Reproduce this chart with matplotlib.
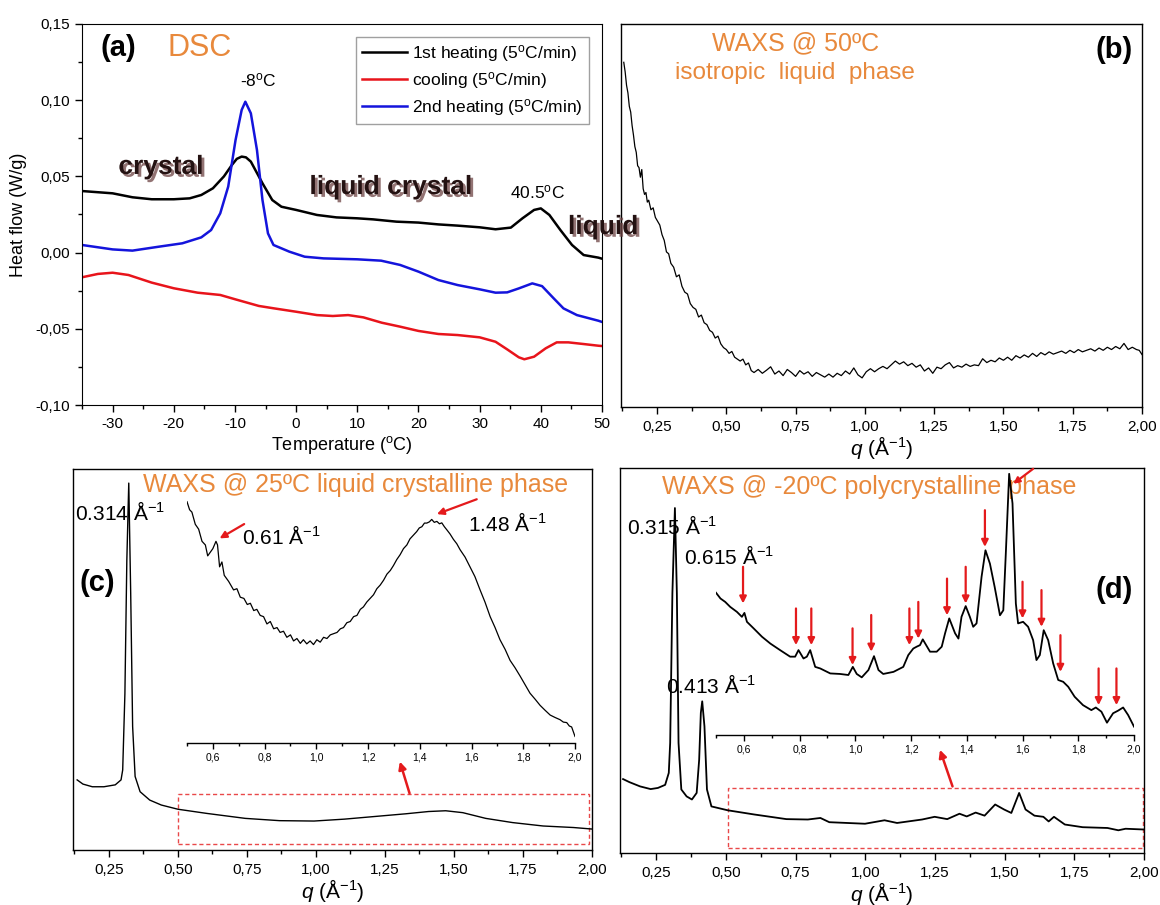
import numpy as np
import matplotlib
matplotlib.use('Agg')
import matplotlib.pyplot as plt
from matplotlib import patheffects as pe
from matplotlib.ticker import FuncFormatter, MultipleLocator
from matplotlib.patches import Rectangle

plt.rcParams['font.family'] = ['Liberation Sans', 'DejaVu Sans']
plt.rcParams['mathtext.fontset'] = 'custom'
plt.rcParams['mathtext.rm'] = 'Liberation Sans'
plt.rcParams['mathtext.it'] = 'Liberation Sans:italic'
plt.rcParams['axes.unicode_minus'] = False

# ---------------- data: (a) DSC ----------------
T_heat1 = [-35, -30, -26.75, -23.6, -20, -17.4, -15.5, -13.6, -11.8, -10.5,
           -9.7, -8.9, -8.2, -7.4, -5.5, -3.9, -2.4, 0, 3.4, 6.6,
           10, 12.6, 16.4, 20, 23.25, 26.4, 30, 32.6, 35.1, 37,
           38.9, 40, 41.4, 43.2, 45.1, 47, 49.4, 50]
hf_heat1 = [0.0404, 0.0389, 0.0363, 0.0350, 0.0350, 0.0356, 0.0378, 0.0422, 0.0500, 0.0575,
            0.0615, 0.0630, 0.0625, 0.0597, 0.0455, 0.0345, 0.0301, 0.0280, 0.0247, 0.0231,
            0.0225, 0.0218, 0.0203, 0.0197, 0.0185, 0.0177, 0.0166, 0.0153, 0.0164, 0.0225,
            0.0280, 0.0290, 0.0247, 0.0148, 0.0050, -0.0016, -0.0033, -0.0040]

T_heat2 = [-35, -30, -26.75, -22.4, -18.6, -15.5, -13.9, -12.4, -11.1, -9.9,
           -8.9, -8.3, -7.4, -6.4, -5.5, -4.6, -3.7, -1.1, 1.4, 4.5,
           10, 13.9, 17, 20, 23.25, 26.4, 30, 32.6, 34.5, 36.4,
           38.6, 40.2, 42.1, 43.7, 45.9, 49.4, 50]
hf_heat2 = [0.0050, 0.0021, 0.0013, 0.0039, 0.0061, 0.0100, 0.0148, 0.0258, 0.0433, 0.0739,
            0.0936, 0.0990, 0.0914, 0.0673, 0.0345, 0.0126, 0.0050, 0.0006, -0.0027, -0.0038,
            -0.0044, -0.0053, -0.0081, -0.0125, -0.0180, -0.0213, -0.0241, -0.0263, -0.0261, -0.0235,
            -0.0202, -0.0220, -0.0300, -0.0366, -0.0410, -0.0447, -0.0455]

T_cool = [-35, -32.4, -30, -27.4, -23.6, -20, -16.1, -12.4, -9.9, -6.1,
          -3.6, 0, 3.4, 6, 8.5, 11, 14, 17, 20, 23.25,
          26.4, 30, 32.6, 34.5, 36.4, 37.3, 38.9, 40.8, 42.6, 44.5,
          47, 49.4, 50]
hf_cool = [-0.0162, -0.0140, -0.0132, -0.0147, -0.0197, -0.0234, -0.0263, -0.0278, -0.0307, -0.0350,
           -0.0366, -0.0388, -0.0410, -0.0416, -0.0410, -0.0425, -0.0460, -0.0486, -0.0514, -0.0534,
           -0.0541, -0.0556, -0.0585, -0.0635, -0.0687, -0.0700, -0.0683, -0.0628, -0.0589, -0.0589,
           -0.0600, -0.0611, -0.0613]

dsc_labels = ['1st heating (5$^{\\rm o}$C/min)', 'cooling (5$^{\\rm o}$C/min)',
              '2nd heating (5$^{\\rm o}$C/min)']

# ---------------- data: (b) WAXS 50 C ----------------
q_b = [0.130, 0.135, 0.140, 0.145, 0.150, 0.155, 0.160, 0.165, 0.170, 0.175,
       0.180, 0.185, 0.190, 0.195, 0.200, 0.205, 0.210, 0.215, 0.220, 0.228,
       0.236, 0.244, 0.252, 0.260, 0.268, 0.276, 0.284, 0.292, 0.300, 0.310,
       0.320, 0.330, 0.340, 0.350, 0.360, 0.370, 0.380, 0.390, 0.400, 0.410,
       0.420, 0.430, 0.440, 0.450, 0.460, 0.470, 0.480, 0.490, 0.500, 0.510,
       0.520, 0.530, 0.540, 0.550, 0.560, 0.570, 0.580, 0.590, 0.600, 0.615,
       0.630, 0.645, 0.660, 0.675, 0.690, 0.705, 0.720, 0.735, 0.750, 0.765,
       0.780, 0.795, 0.810, 0.825, 0.840, 0.855, 0.870, 0.885, 0.900, 0.915,
       0.930, 0.945, 0.960, 0.975, 0.990, 1.005, 1.020, 1.035, 1.050, 1.065,
       1.080, 1.095, 1.110, 1.125, 1.140, 1.155, 1.170, 1.185, 1.200, 1.215,
       1.230, 1.245, 1.260, 1.275, 1.290, 1.305, 1.320, 1.335, 1.350, 1.365,
       1.380, 1.395, 1.410, 1.425, 1.440, 1.455, 1.470, 1.485, 1.500, 1.515,
       1.530, 1.545, 1.560, 1.575, 1.590, 1.605, 1.620, 1.635, 1.650, 1.665,
       1.680, 1.695, 1.710, 1.725, 1.740, 1.755, 1.770, 1.785, 1.800, 1.815,
       1.830, 1.845, 1.860, 1.875, 1.890, 1.905, 1.920, 1.935, 1.950, 1.965,
       1.980, 1.990, 2.000]
I_b = [90.0, 87.5, 84.0, 82.0, 78.5, 77.0, 73.5, 71.0, 68.0, 66.5,
       63.0, 62.5, 60.0, 62.0, 57.0, 55.5, 56.0, 53.5, 54.0, 51.5,
       52.0, 49.5, 48.5, 47.5, 45.0, 43.5, 40.5, 40.0, 37.5, 36.5,
       34.0, 34.5, 31.5, 30.0, 29.5, 27.0, 26.0, 25.5, 23.5, 24.0,
       22.0, 21.5, 20.0, 19.5, 18.0, 18.5, 16.5, 15.5, 15.0, 14.0,
       14.5, 13.0, 12.5, 12.0, 12.5, 11.0, 11.5, 9.5, 9.0, 9.8,
       8.8, 9.6, 10.5, 8.6, 9.4, 8.2, 9.8, 9.0, 8.0, 9.5,
       8.6, 9.2, 8.0, 9.0, 8.4, 7.8, 8.6, 7.8, 8.8, 8.2,
       9.4, 8.6, 10.2, 8.4, 7.6, 9.2, 10.0, 9.2, 10.0, 10.6,
       10.0, 11.0, 12.0, 11.2, 11.8, 10.8, 11.4, 10.4, 11.0, 9.4,
       10.2, 8.8, 10.4, 10.0, 11.0, 11.6, 10.2, 10.8, 10.4, 11.2,
       10.6, 11.0, 10.8, 12.6, 11.6, 12.2, 11.8, 12.8, 12.2, 13.0,
       12.2, 13.4, 12.8, 13.6, 13.0, 14.0, 13.2, 14.2, 13.6, 14.4,
       13.8, 14.2, 14.6, 14.0, 14.8, 14.2, 15.0, 14.4, 14.8, 15.2,
       14.6, 15.4, 14.8, 15.6, 15.0, 15.8, 15.2, 16.6, 15.0, 15.6,
       15.0, 14.8, 13.7]

# ---------------- data: (c) WAXS 25 C ----------------
q_c = [0.135, 0.156, 0.190, 0.232, 0.273, 0.294, 0.300, 0.308, 0.315, 0.322,
       0.329, 0.336, 0.345, 0.363, 0.398, 0.440, 0.500, 0.605, 0.744, 0.868,
       0.993, 1.103, 1.214, 1.325, 1.408, 1.470, 1.532, 1.615, 1.712, 1.823,
       1.933, 2.000]
I_c = [18.4, 17.3, 16.6, 16.6, 17.1, 18.4, 21.0, 41.0, 76.0, 96.3,
       67.4, 32.4, 19.3, 15.3, 13.1, 11.8, 10.7, 9.6, 8.3, 7.7,
       7.6, 8.1, 8.8, 9.5, 10.1, 10.3, 9.8, 8.3, 7.2, 6.3,
       5.9, 5.5]

q_cin = [0.500, 0.510, 0.519, 0.532, 0.545, 0.558, 0.571, 0.580, 0.590, 0.600,
         0.612, 0.618, 0.626, 0.635, 0.644, 0.661, 0.680, 0.693, 0.706, 0.720,
         0.733, 0.745, 0.758, 0.770, 0.783, 0.796, 0.809, 0.822, 0.835, 0.848,
         0.860, 0.873, 0.886, 0.900, 0.912, 0.925, 0.938, 0.950, 0.963, 0.976,
         0.989, 1.002, 1.015, 1.028, 1.041, 1.054, 1.067, 1.080, 1.093, 1.105,
         1.118, 1.131, 1.144, 1.157, 1.170, 1.182, 1.195, 1.208, 1.221, 1.234,
         1.247, 1.260, 1.273, 1.286, 1.298, 1.311, 1.324, 1.337, 1.350, 1.362,
         1.375, 1.388, 1.398, 1.408, 1.418, 1.427, 1.437, 1.446, 1.456, 1.466,
         1.476, 1.485, 1.495, 1.504, 1.517, 1.530, 1.543, 1.556, 1.575, 1.594,
         1.613, 1.633, 1.652, 1.672, 1.691, 1.710, 1.730, 1.749, 1.768, 1.788,
         1.807, 1.826, 1.846, 1.865, 1.884, 1.904, 1.923, 1.942, 1.955, 1.968,
         1.978, 1.987, 2.000]
I_cin = [99.3, 96.0, 95.0, 90.0, 88.0, 83.0, 81.5, 77.0, 78.5, 80.0,
         83.0, 81.5, 72.5, 74.5, 69.0, 66.5, 63.0, 63.5, 60.0, 59.5,
         57.0, 57.5, 54.5, 55.0, 52.5, 52.0, 49.0, 50.0, 47.0, 47.5,
         45.5, 46.0, 43.5, 44.5, 42.0, 43.0, 41.0, 42.5, 40.8, 42.0,
         40.5, 42.5, 41.5, 43.5, 43.0, 44.5, 45.0, 45.5, 47.0, 47.5,
         49.5, 50.0, 52.0, 52.5, 55.0, 56.0, 58.0, 59.5, 61.0, 63.5,
         65.0, 67.0, 69.5, 71.0, 73.0, 75.5, 77.5, 80.0, 81.5, 84.0,
         85.5, 87.0, 88.5, 89.0, 90.5, 90.5, 91.0, 92.0, 90.8, 91.2,
         90.2, 90.6, 89.0, 87.8, 86.0, 83.8, 82.0, 79.5, 76.5, 72.5,
         68.5, 63.0, 58.0, 52.0, 47.5, 42.5, 38.5, 34.0, 31.0, 27.5,
         24.0, 20.5, 18.0, 15.5, 13.5, 11.5, 10.5, 9.6, 8.6, 8.4,
         7.0, 6.6, 2.7]

# ---------------- data: (d) WAXS -20 C ----------------
q_d = [0.131, 0.154, 0.192, 0.230, 0.256, 0.282, 0.295, 0.300, 0.308, 0.317,
       0.324, 0.330, 0.340, 0.359, 0.378, 0.395, 0.404, 0.410, 0.415, 0.423,
       0.432, 0.448, 0.506, 0.602, 0.717, 0.794, 0.839, 0.871, 0.999, 1.069,
       1.114, 1.204, 1.249, 1.294, 1.338, 1.364, 1.396, 1.428, 1.466, 1.498,
       1.524, 1.552, 1.575, 1.607, 1.639, 1.658, 1.677, 1.716, 1.780, 1.869,
       1.908, 1.934, 2.000]
I_d = [19.2, 18.4, 17.3, 16.6, 16.9, 17.7, 20.8, 28.6, 67.5, 89.6,
       67.5, 28.6, 16.5, 14.7, 13.9, 15.6, 24.2, 36.4, 39.4, 32.9,
       16.5, 12.1, 11.1, 10.0, 8.8, 8.7, 9.1, 8.0, 7.6, 8.5,
       7.8, 8.7, 9.4, 8.8, 10.2, 9.5, 10.5, 9.7, 12.6, 11.3,
       10.4, 15.6, 11.3, 9.7, 9.4, 8.2, 9.4, 7.4, 6.7, 6.5,
       5.9, 6.3, 6.1]

q_din = [0.500, 0.516, 0.533, 0.551, 0.575, 0.593, 0.602, 0.611, 0.635, 0.665,
         0.695, 0.730, 0.766, 0.784, 0.796, 0.814, 0.826, 0.838, 0.856, 0.874,
         0.910, 0.945, 0.975, 0.991, 1.005, 1.023, 1.047, 1.067, 1.083, 1.100,
         1.137, 1.172, 1.190, 1.208, 1.220, 1.232, 1.242, 1.268, 1.292, 1.310,
         1.322, 1.337, 1.358, 1.370, 1.381, 1.396, 1.411, 1.423, 1.435, 1.453,
         1.467, 1.483, 1.500, 1.519, 1.531, 1.540, 1.552, 1.564, 1.576, 1.584,
         1.602, 1.620, 1.638, 1.650, 1.662, 1.676, 1.692, 1.710, 1.728, 1.746,
         1.764, 1.787, 1.817, 1.847, 1.863, 1.883, 1.903, 1.925, 1.943, 1.961,
         1.979, 2.000]
I_din = [54.3, 52.1, 50.8, 48.9, 47.0, 45.1, 46.6, 43.2, 40.7, 37.5,
         34.9, 32.4, 29.9, 29.9, 32.4, 29.2, 29.9, 32.4, 26.0, 25.4,
         23.5, 23.3, 22.9, 26.0, 23.3, 22.0, 24.8, 30.1, 24.8, 23.3,
         24.1, 26.0, 30.5, 33.0, 33.7, 34.3, 36.5, 31.8, 31.8, 33.7,
         38.8, 44.5, 38.8, 36.8, 45.1, 49.2, 45.1, 41.3, 42.6, 60.4,
         70.5, 65.4, 56.5, 45.7, 47.6, 69.3, 99.7, 88.4, 50.2, 42.6,
         43.2, 41.3, 36.2, 28.6, 30.5, 40.0, 36.2, 27.3, 21.0, 20.3,
         18.4, 14.6, 11.4, 9.5, 10.5, 8.9, 4.7, 8.3, 9.3, 10.5,
         7.6, 3.2]

# peaks marked by red arrows in the (d) inset, and the curve height at each
peaks_d = [0.597, 0.787, 0.842, 0.990, 1.057, 1.194, 1.226, 1.329, 1.396, 1.465,
           1.600, 1.668, 1.736, 1.873, 1.937]
tips_d = [50.2, 34.3, 34.3, 26.7, 31.8, 34.3, 36.8, 45.7, 50.2, 71.8,
          44.5, 41.3, 24.1, 11.4, 11.4]

# ---------------- styling ----------------
ORANGE = '#E8893C'
RED = '#E41A1C'
W, H = 1160, 905
fig = plt.figure(figsize=(W / 100, H / 100), dpi=100)


def box(l, t, r, b):
    return [l / W, 1 - b / H, (r - l) / W, (b - t) / H]


def comma(fmt):
    return FuncFormatter(lambda v, p: (fmt % (round(v, 6) + 0.0)).replace('.', ','))


def style_q_axis(ax):
    ax.set_xlim(0.12, 2.0)
    ax.set_ylim(0, 100)
    ax.xaxis.set_major_locator(MultipleLocator(0.25))
    ax.xaxis.set_minor_locator(MultipleLocator(0.125))
    ax.xaxis.set_major_formatter(comma('%.2f'))
    ax.set_yticks([])
    ax.tick_params(axis='x', which='major', direction='out', length=5, width=1,
                   labelsize=11, pad=4)
    ax.tick_params(axis='x', which='minor', direction='out', length=3, width=1)
    ax.set_xlabel('$q$ (Å$^{-1}$)', fontsize=15, labelpad=0)
    for s in ax.spines.values():
        s.set_linewidth(1.0)


def style_inset(ax):
    ax.set_xlim(0.5, 2.0)
    ax.set_ylim(0, 100)
    ax.patch.set_alpha(0)
    for k in ['top', 'left', 'right']:
        ax.spines[k].set_visible(False)
    ax.spines['bottom'].set_linewidth(1.0)
    ax.set_yticks([])
    ax.xaxis.set_minor_locator(MultipleLocator(0.1))
    ax.set_xticks([0.6, 0.8, 1.0, 1.2, 1.4, 1.6, 1.8, 2.0])
    ax.xaxis.set_major_formatter(comma('%.1f'))
    ax.tick_params(axis='x', which='major', direction='out', length=4, width=1,
                   labelsize=7.5, pad=3)
    ax.tick_params(axis='x', which='minor', direction='out', length=2.5, width=1)


def red_arrow(ax, tip, tail, lw=1.8, ms=11):
    ax.annotate('', xy=tip, xytext=tail,
                arrowprops=dict(arrowstyle='-|>', color=RED, lw=lw,
                                mutation_scale=ms, shrinkA=0, shrinkB=0),
                annotation_clip=False)


# ================= (a) DSC =================
ax_a = fig.add_axes(box(82, 24, 602, 405))
ax_a.plot(T_heat1, hf_heat1, color='black', lw=1.8, label=dsc_labels[0],
          solid_joinstyle='round')
ax_a.plot(T_cool, hf_cool, color='#E8141B', lw=1.8, label=dsc_labels[1],
          solid_joinstyle='round')
ax_a.plot(T_heat2, hf_heat2, color='#1414DC', lw=1.8, label=dsc_labels[2],
          solid_joinstyle='round')
ax_a.set_xlim(-35, 50)
ax_a.set_ylim(-0.10, 0.15)
ax_a.xaxis.set_major_locator(MultipleLocator(10))
ax_a.xaxis.set_minor_locator(MultipleLocator(5))
ax_a.yaxis.set_major_locator(MultipleLocator(0.05))
ax_a.yaxis.set_minor_locator(MultipleLocator(0.025))
ax_a.yaxis.set_major_formatter(comma('%.2f'))
ax_a.tick_params(which='major', direction='out', length=5, width=1, labelsize=11)
ax_a.tick_params(which='minor', direction='out', length=3, width=1)
ax_a.set_xlabel('Temperature ($^{\\rm o}$C)', fontsize=13, labelpad=2)
ax_a.set_ylabel('Heat flow (W/g)', fontsize=13, labelpad=6)
leg = ax_a.legend(loc='upper right', bbox_to_anchor=(0.975, 0.966), fontsize=12.5,
                  frameon=True, fancybox=False, edgecolor='#888888',
                  handlelength=2.6, handletextpad=0.3, borderaxespad=0,
                  labelspacing=0.35, borderpad=0.35)
leg.get_frame().set_linewidth(1.0)
ax_a.text(0.069, 0.937, '(a)', transform=ax_a.transAxes, fontsize=21,
          fontweight='bold', ha='center', va='center')
ax_a.text(0.227, 0.937, 'DSC', transform=ax_a.transAxes, fontsize=22,
          color=ORANGE, ha='center', va='center')
ax_a.text(-6.1, 0.113, '-8$^{\\rm o}$C', fontsize=12.5, ha='center', va='center')
ax_a.text(39.4, 0.0398, '40.5$^{\\rm o}$C', fontsize=12.5, ha='center', va='center')

# ================= (b) WAXS 50 C =================
ax_b = fig.add_axes(box(621, 24, 1142, 407))
ax_b.plot(q_b, I_b, color='black', lw=0.9)
style_q_axis(ax_b)
ax_b.text(0.336, 0.950, 'WAXS @ 50ºC', transform=ax_b.transAxes, fontsize=18,
          color=ORANGE, ha='center', va='center')
ax_b.text(0.334, 0.872, 'isotropic  liquid  phase', transform=ax_b.transAxes,
          fontsize=17.5, color=ORANGE, ha='center', va='center')
ax_b.text(0.946, 0.932, '(b)', transform=ax_b.transAxes, fontsize=21,
          fontweight='bold', ha='center', va='center')

# phase labels of (a), drawn on the figure so "liquid" can overlap panel (b)
shadow = [pe.SimplePatchShadow(offset=(2, -2), shadow_rgbFace='#6e4444', alpha=0.75),
          pe.Normal()]
for txt, x, y in [('crystal', -22.1, 0.0562), ('liquid crystal', 15.5, 0.043),
                  ('liquid', 50.2, 0.0168)]:
    fig.text(x, y, txt, transform=ax_a.transData, fontsize=19, fontweight='bold',
             color='#241212', ha='center', va='center', path_effects=shadow,
             zorder=10)

# ================= (c) WAXS 25 C =================
ax_c = fig.add_axes(box(73, 469, 592, 850))
ax_c.plot(q_c, I_c, color='black', lw=1.0)
style_q_axis(ax_c)
ax_c.add_patch(Rectangle((0.50, 1.6), 1.49, 13.1, fill=False, edgecolor=RED,
                         lw=1.0, linestyle=(0, (3, 2)), alpha=0.8))
red_arrow(ax_c, (1.304, 23.2), (1.339, 14.9))
ax_c.text(0.545, 0.958, 'WAXS @ 25ºC liquid crystalline phase', transform=ax_c.transAxes,
          fontsize=18, color=ORANGE, ha='center', va='center')
ax_c.text(0.004, 0.885, '0.314 Å$^{-1}$', transform=ax_c.transAxes, fontsize=15,
          ha='left', va='center')
ax_c.text(0.046, 0.70, '(c)', transform=ax_c.transAxes, fontsize=21,
          fontweight='bold', ha='center', va='center')

ax_ci = fig.add_axes(box(187, 500, 575, 743))
ax_ci.plot(q_cin, I_cin, color='black', lw=0.9)
style_inset(ax_ci)
red_arrow(ax_ci, (0.626, 84.2), (0.721, 90.1), lw=1.6, ms=10)
red_arrow(ax_ci, (1.466, 94.2), (1.620, 100.3), lw=1.6, ms=10)
ax_ci.text(0.713, 84.8, '0.61 Å$^{-1}$', fontsize=15, ha='left', va='center')
ax_ci.text(1.586, 90.5, '1.48 Å$^{-1}$', fontsize=15, ha='left', va='center')

# ================= (d) WAXS -20 C =================
ax_d = fig.add_axes(box(620, 468, 1144, 853))
ax_d.plot(q_d, I_d, color='black', lw=1.3)
style_q_axis(ax_d)
ax_d.add_patch(Rectangle((0.506, 1.3), 1.489, 15.6, fill=False, edgecolor=RED,
                         lw=1.0, linestyle=(0, (3, 2)), alpha=0.8))
red_arrow(ax_d, (1.268, 26.8), (1.313, 17.3))
ax_d.text(0.475, 0.951, 'WAXS @ -20ºC polycrystalline phase', transform=ax_d.transAxes,
          fontsize=18, color=ORANGE, ha='center', va='center')
ax_d.text(0.013, 0.847, '0.315 Å$^{-1}$', transform=ax_d.transAxes, fontsize=15,
          ha='left', va='center')
ax_d.text(0.122, 0.769, '0.615 Å$^{-1}$', transform=ax_d.transAxes, fontsize=15,
          ha='left', va='center')
ax_d.text(0.088, 0.436, '0.413 Å$^{-1}$', transform=ax_d.transAxes, fontsize=15,
          ha='left', va='center')
ax_d.text(0.943, 0.683, '(d)', transform=ax_d.transAxes, fontsize=21,
          fontweight='bold', ha='center', va='center')

ax_di = fig.add_axes(box(716, 473, 1134, 735))
ax_di.plot(q_din, I_din, color='black', lw=1.3)
style_inset(ax_di)
for qp, tp in zip(peaks_d, tips_d):
    red_arrow(ax_di, (qp, tp), (qp, tp + 14), lw=1.6, ms=10)
red_arrow(ax_di, (1.567, 95.9), (1.638, 101.6), lw=1.6, ms=9)

fig.savefig('out.png', dpi=100, facecolor='white')
